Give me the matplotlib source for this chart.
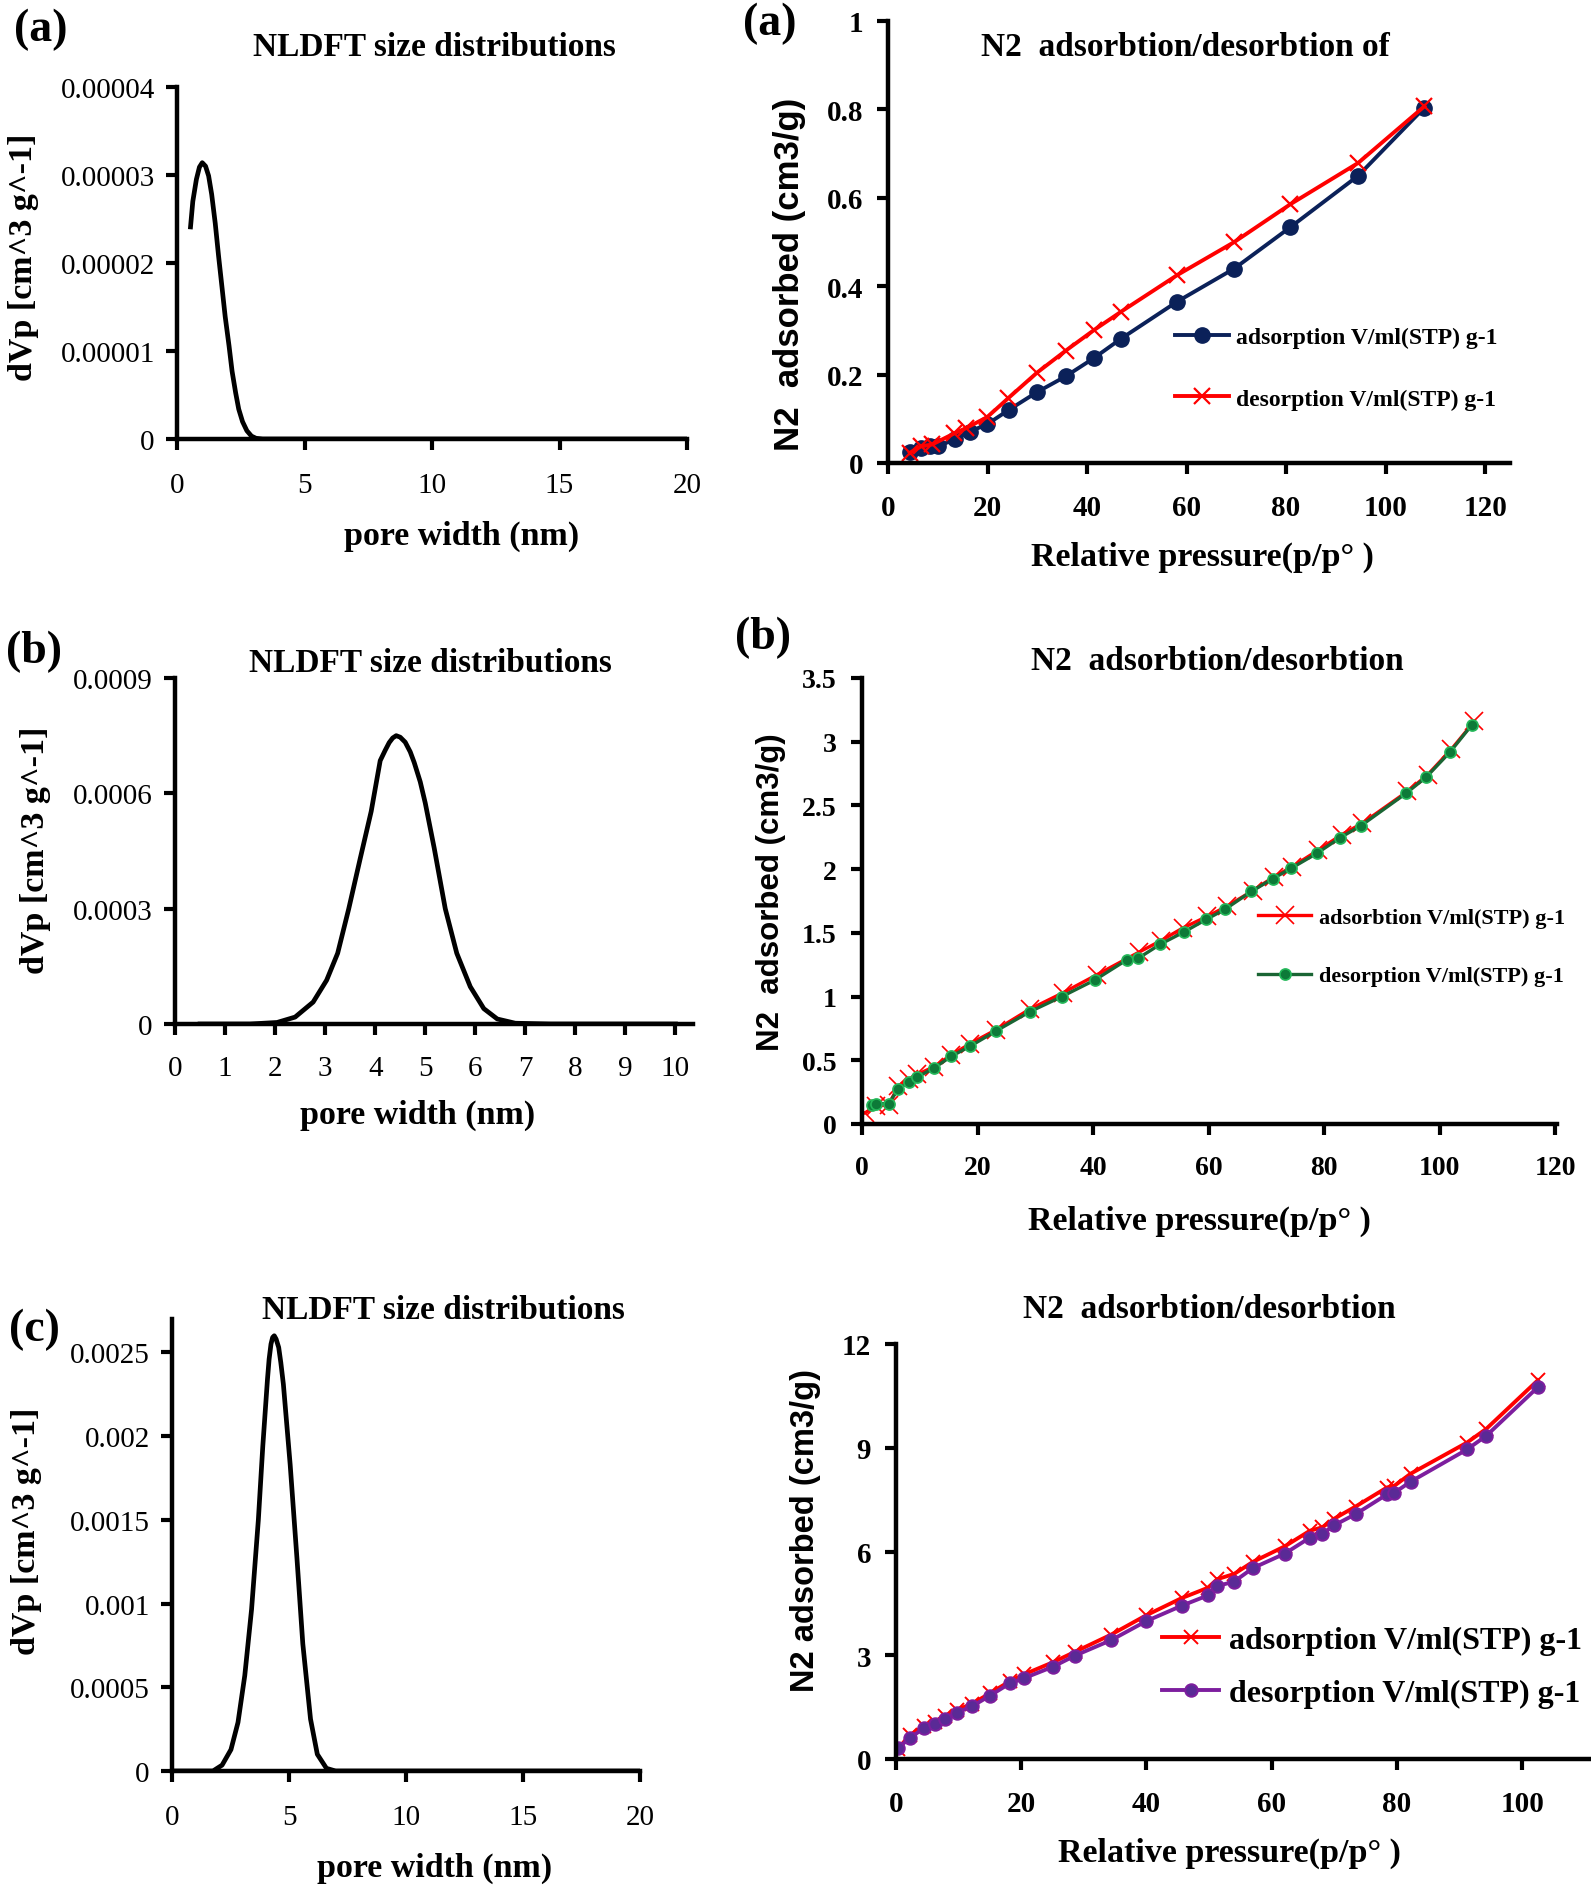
import matplotlib
matplotlib.use('Agg')
import matplotlib.pyplot as plt

plt.rcParams['font.family'] = ['Liberation Serif', 'DejaVu Serif']

W, H = 1591, 1890

# ---- data ----
# (a) NLDFT pore size distribution
psd_a_x = [0.53, 0.62, 0.76, 0.88, 0.99, 1.12, 1.24, 1.36, 1.50, 1.63, 1.77, 1.89, 2.04,
           2.16, 2.30, 2.42, 2.57, 2.74, 2.92, 3.10, 3.36, 5, 10, 15, 20]
psd_a_y = [2.41e-5, 2.70e-5, 2.95e-5, 3.09e-5, 3.14e-5, 3.10e-5, 2.99e-5, 2.78e-5, 2.45e-5,
           2.08e-5, 1.71e-5, 1.39e-5, 1.06e-5, 0.77e-5, 0.525e-5, 0.34e-5, 0.197e-5,
           0.094e-5, 0.033e-5, 0.008e-5, 0, 0, 0, 0, 0]

# (b) NLDFT pore size distribution
psd_b_x = [0.5, 1.0, 1.5, 2.04, 2.4, 2.76, 3.03, 3.25, 3.47, 3.70, 3.92, 4.10, 4.2, 4.28,
           4.35, 4.42, 4.5, 4.6, 4.7, 4.78, 4.9, 5.0, 5.18, 5.40, 5.63, 5.9, 6.17, 6.44,
           6.8, 7.5, 8.5, 10.0]
psd_b_y = [0, 0, 0, 0.04e-4, 0.18e-4, 0.57e-4, 1.14e-4, 1.84e-4, 2.99e-4, 4.3e-4, 5.53e-4,
           6.85e-4, 7.12e-4, 7.32e-4, 7.44e-4, 7.5e-4, 7.46e-4, 7.33e-4, 7.08e-4, 6.8e-4,
           6.3e-4, 5.75e-4, 4.57e-4, 3.0e-4, 1.84e-4, 0.97e-4, 0.4e-4, 0.13e-4, 0.02e-4,
           0, 0, 0]

# (c) NLDFT pore size distribution
psd_c_x = [0.0, 1.0, 1.75, 2.14, 2.52, 2.82, 3.11, 3.40, 3.69, 3.88, 4.08, 4.15, 4.23, 4.3,
           4.37, 4.45, 4.56, 4.65, 4.76, 5.05, 5.34, 5.59, 5.92, 6.21, 6.6, 6.99, 10, 15, 20]
psd_c_y = [0, 0, 0, 0.035e-3, 0.128e-3, 0.29e-3, 0.57e-3, 0.965e-3, 1.5e-3, 1.94e-3,
           2.34e-3, 2.46e-3, 2.55e-3, 2.59e-3, 2.6e-3, 2.58e-3, 2.53e-3, 2.44e-3, 2.31e-3,
           1.83e-3, 1.27e-3, 0.76e-3, 0.31e-3, 0.1e-3, 0.016e-3, 0, 0, 0, 0]

# (a) isotherm
iso_a_ads_x = [4.4, 6.6, 8.5, 10.0, 13.5, 16.4, 19.9, 24.4, 29.9, 35.7, 41.4, 46.8, 58.1,
               69.6, 80.8, 94.5, 107.8]
iso_a_ads_y = [0.025, 0.033, 0.0375, 0.0375, 0.054, 0.071, 0.0875, 0.121, 0.16, 0.196,
               0.2375, 0.281, 0.365, 0.44, 0.533, 0.65, 0.804]
iso_a_des_x = [4.4, 6.6, 8.9, 13.3, 15.7, 19.96, 24.1, 29.9, 35.7, 41.3, 46.8, 58.1, 69.6,
               80.8, 94.5, 107.8]
iso_a_des_y = [0.023, 0.0375, 0.042, 0.067, 0.079, 0.104, 0.146, 0.204, 0.254, 0.3, 0.342,
               0.425, 0.5, 0.585, 0.679, 0.807]

# (b) isotherm
iso_b_ads_x = [0.6, 2.5, 4.6, 6.3, 8.1, 9.6, 12.5, 15.4, 18.7, 23.2, 29.0, 34.8, 40.6, 48.0,
               51.8, 55.6, 59.8, 63.2, 67.6, 71.3, 74.5, 79.0, 83.0, 86.6, 94.4, 97.9, 102.0,
               106.0]
iso_b_ads_y = [0.09, 0.14, 0.15, 0.3, 0.35, 0.39, 0.45, 0.54, 0.63, 0.74, 0.9, 1.03, 1.17,
               1.35, 1.44, 1.54, 1.63, 1.71, 1.83, 1.94, 2.02, 2.15, 2.27, 2.36, 2.61, 2.74,
               2.94, 3.16]
iso_b_des_x = [1.7, 2.5, 4.6, 6.3, 8.1, 9.6, 12.5, 15.4, 18.7, 23.2, 29.0, 34.6, 40.3, 45.9,
               47.8, 51.6, 55.7, 59.6, 62.8, 67.4, 71.1, 74.3, 78.8, 82.8, 86.4, 94.2, 97.7,
               101.8, 105.6]
iso_b_des_y = [0.15, 0.16, 0.16, 0.275, 0.33, 0.37, 0.44, 0.53, 0.61, 0.73, 0.88, 1.0, 1.13,
               1.29, 1.30, 1.41, 1.506, 1.606, 1.684, 1.825, 1.925, 2.007, 2.126, 2.248,
               2.342, 2.596, 2.724, 2.92, 3.134]

# (c) isotherm
iso_c_x = [0.3, 2.2, 4.4, 6.2, 7.9, 9.7, 12.2, 15.0, 18.2, 20.5, 25.1, 28.6, 34.4, 39.9,
           45.6, 49.8, 51.3, 54.0, 57.0, 62.1, 66.1, 68.1, 70.0, 73.4, 78.4, 79.6, 82.2,
           91.2, 94.3, 102.5]
iso_c_ads_y = [0.3, 0.68, 0.95, 1.08, 1.25, 1.42, 1.6, 1.9, 2.25, 2.45, 2.8, 3.1, 3.6, 4.15,
               4.65, 4.95, 5.2, 5.35, 5.7, 6.15, 6.6, 6.7, 6.95, 7.3, 7.85, 7.9, 8.25, 9.15,
               9.55, 10.95]
iso_c_des_y = [0.32, 0.6, 0.89, 1.0, 1.17, 1.34, 1.53, 1.83, 2.19, 2.34, 2.67, 2.99, 3.44,
               3.98, 4.43, 4.73, 5.0, 5.13, 5.52, 5.94, 6.4, 6.51, 6.76, 7.08, 7.65, 7.7,
               8.02, 8.95, 9.35, 10.75]

NAVY = '#0b2159'
RED = '#ff0000'
GREEN_LINE = '#1a6534'
GREEN_FACE = '#0d7a38'
GREEN_EDGE = '#25b85a'
PURPLE = '#7d1e9e'
PURPLE_FACE = '#5a2a96'

fig = plt.figure(figsize=(W / 100, H / 100), dpi=100)


def box(l, t, r, b):
    return [l / W, 1 - b / H, (r - l) / W, (b - t) / H]


def ftext(x, y, s, **kw):
    fig.text(x / W, 1 - y / H, s, ha='center', va='center', **kw)


def style(ax, bold, xpad, ypad, size):
    for s in ['top', 'right']:
        ax.spines[s].set_visible(False)
    for s in ['left', 'bottom']:
        ax.spines[s].set_linewidth(3.2)
    ax.tick_params(direction='out', length=8, width=3, labelsize=size)
    ax.tick_params(axis='x', pad=xpad)
    ax.tick_params(axis='y', pad=ypad)
    for lab in ax.get_xticklabels() + ax.get_yticklabels():
        lab.set_fontweight('bold' if bold else 'normal')


# ---------- left column: NLDFT ----------
ax1 = fig.add_axes(box(177, 88, 687, 440))
ax1.plot(psd_a_x, psd_a_y, color='black', lw=3.4)
ax1.set_xlim(0, 20)
ax1.set_ylim(0, 0.00004)
ax1.set_xticks([0, 5, 10, 15, 20])
ax1.set_yticks([0, 0.00001, 0.00002, 0.00003, 0.00004])
ax1.set_yticklabels(['0', '0.00001', '0.00002', '0.00003', '0.00004'])
style(ax1, False, 16, 8, 21)

ax3 = fig.add_axes(box(175, 679, 693, 1025))
ax3.plot(psd_b_x, psd_b_y, color='black', lw=3.4)
ax3.set_xlim(0, 10.35)
ax3.set_ylim(0, 0.0009)
ax3.set_xticks(range(0, 11))
ax3.set_yticks([0, 0.0003, 0.0006, 0.0009])
ax3.set_yticklabels(['0', '0.0003', '0.0006', '0.0009'])
style(ax3, False, 14, 8, 21)

ax5 = fig.add_axes(box(172, 1320, 640, 1772))
ax5.plot(psd_c_x, psd_c_y, color='black', lw=3.4)
ax5.set_xlim(0, 20)
ax5.set_ylim(0, 0.0027)
ax5.set_xticks([0, 5, 10, 15, 20])
ax5.set_yticks([0, 0.0005, 0.001, 0.0015, 0.002, 0.0025])
ax5.set_yticklabels(['0', '0.0005', '0.001', '0.0015', '0.002', '0.0025'])
style(ax5, False, 16, 8, 21)

# ---------- right column: isotherms ----------
ax2 = fig.add_axes(box(888, 22, 1510, 464))
ax2.plot(iso_a_ads_x, iso_a_ads_y, color=NAVY, lw=2.8, marker='o', ms=11,
         label='adsorption V/ml(STP) g-1')
ax2.plot(iso_a_des_x, iso_a_des_y, color=RED, lw=2.8, marker='x', ms=11, mew=1.6,
         label='desorption V/ml(STP) g-1')
ax2.set_xlim(0, 125)
ax2.set_ylim(0, 1)
ax2.set_xticks(range(0, 121, 20))
ax2.set_yticks([0, 0.2, 0.4, 0.6, 0.8, 1])
ax2.set_yticklabels(['0', '0.2', '0.4', '0.6', '0.8', '1'])
style(ax2, True, 14, 10, 21)
ax2.legend(loc='center left', bbox_to_anchor=(1163 / W, 1 - 369 / H),
           bbox_transform=fig.transFigure, frameon=False, borderpad=0,
           handlelength=2.3, handletextpad=0.3, labelspacing=1.7,
           prop={'weight': 'bold', 'size': 17})

ax4 = fig.add_axes(box(862, 679, 1557, 1125))
ax4.plot(iso_b_ads_x, iso_b_ads_y, color=RED, lw=2.4, marker='x', ms=13, mew=1.2,
         label='adsorbtion V/ml(STP) g-1')
ax4.plot(iso_b_des_x, iso_b_des_y, color=GREEN_LINE, lw=2.4, marker='o', ms=8,
         mfc=GREEN_FACE, mec=GREEN_EDGE, mew=1.2, label='desorption V/ml(STP) g-1')
ax4.set_xlim(0, 120.3)
ax4.set_ylim(0, 3.5)
ax4.set_xticks(range(0, 121, 20))
ax4.set_yticks([0, 0.5, 1, 1.5, 2, 2.5, 3, 3.5])
ax4.set_yticklabels(['0', '0.5', '1', '1.5', '2', '2.5', '3', '3.5'])
style(ax4, True, 14, 10, 20)
ax4.legend(loc='center left', bbox_to_anchor=(1247 / W, 1 - 948 / H),
           bbox_transform=fig.transFigure, frameon=False, borderpad=0,
           handlelength=2.4, handletextpad=0.35, labelspacing=1.7,
           prop={'weight': 'bold', 'size': 16})

ax6 = fig.add_axes(box(896, 1345, 1591, 1760))
ax6.plot(iso_c_x, iso_c_ads_y, color=RED, lw=2.8, marker='x', ms=10, mew=1.4,
         label='adsorption V/ml(STP) g-1')
ax6.plot(iso_c_x, iso_c_des_y, color=PURPLE, lw=2.8, marker='o', ms=9,
         mfc=PURPLE_FACE, mec=PURPLE, mew=1.4, label='desorption V/ml(STP) g-1')
ax6.set_xlim(0, 111)
ax6.set_ylim(0, 12)
ax6.set_xticks(range(0, 101, 20))
ax6.set_yticks([0, 3, 6, 9, 12])
style(ax6, True, 14, 10, 21)
ax6.legend(loc='center left', bbox_to_anchor=(1146 / W, 1 - 1668 / H),
           bbox_transform=fig.transFigure, frameon=False, borderpad=0,
           handlelength=1.8, handletextpad=0.3, labelspacing=0.75,
           prop={'weight': 'bold', 'size': 23})

# ---------- titles, labels ----------
ttl = dict(fontsize=24, fontweight='bold')
ftext(434, 48, 'NLDFT size distributions', **ttl)
ftext(1185, 48, 'N2  adsorbtion/desorbtion of', **ttl)
ftext(430, 664, 'NLDFT size distributions', **ttl)
ftext(1217, 662, 'N2  adsorbtion/desorbtion', **ttl)
ftext(443, 1311, 'NLDFT size distributions', **ttl)
ftext(1209, 1310, 'N2  adsorbtion/desorbtion', **ttl)

pl = dict(fontsize=33, fontweight='bold')
ftext(41, 30, '(a)', **pl)
ftext(770, 24, '(a)', **pl)
ftext(34, 652, '(b)', **pl)
ftext(763, 638, '(b)', **pl)
ftext(34, 1330, '(c)', **pl)

xl = dict(fontsize=24.5, fontweight='bold')
ftext(462, 536, 'pore width (nm)', **xl)
ftext(418, 1115, 'pore width (nm)', **xl)
ftext(435, 1868, 'pore width (nm)', **xl)
ftext(1202, 557, 'Relative pressure(p/p° )', **xl)
ftext(1199, 1221, 'Relative pressure(p/p° )', **xl)
ftext(1229, 1853, 'Relative pressure(p/p° )', **xl)

yl = dict(fontsize=24.5, fontweight='bold', rotation=90)
ftext(24, 257, 'dVp [cm^3 g^-1]', **yl)
ftext(36, 850, 'dVp [cm^3 g^-1]', **yl)
ftext(27, 1531, 'dVp [cm^3 g^-1]', **yl)

yr = dict(fontweight='bold', rotation=90, family='Liberation Sans')
ftext(789, 274, 'N2  adsorbed (cm3/g)', fontsize=25, **yr)
ftext(771, 892, 'N2  adsorbed (cm3/g)', fontsize=22.5, **yr)
ftext(805, 1531, 'N2 adsorbed (cm3/g)', fontsize=23.5, **yr)

fig.savefig('out.png', dpi=100)
